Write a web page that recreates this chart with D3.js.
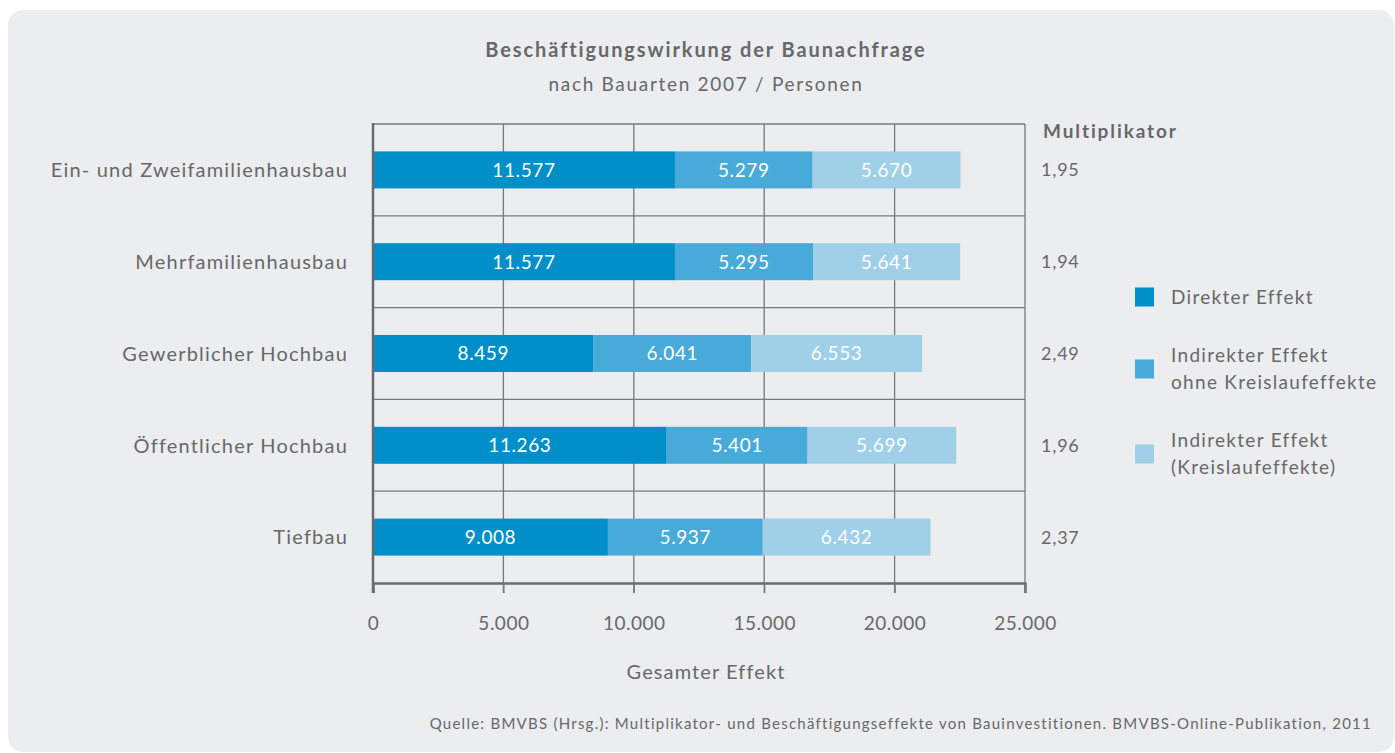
<!DOCTYPE html>
<html>
<head>
<meta charset="utf-8">
<script src="https://cdn.jsdelivr.net/npm/d3@7"></script>
<style>
  body { margin: 0; background: #fff; }
  svg { display: block; font-family: Lato, "Open Sans", sans-serif; }
  .grid line { stroke: #77787a; stroke-width: 1.3; }
  .txt { fill: #67686a; letter-spacing: 1.2px; }
</style>
</head>
<body>
<div id="chart"></div>
<script>
const categories = ["Ein- und Zweifamilienhausbau", "Mehrfamilienhausbau", "Gewerblicher Hochbau", "Öffentlicher Hochbau", "Tiefbau"];
const direkt = [11577, 11577, 8459, 11263, 9008];
const indirekt = [5279, 5295, 6041, 5401, 5937];
const kreislauf = [5670, 5641, 6553, 5699, 6432];
const multiplikator = ["1,95", "1,94", "2,49", "1,96", "2,37"];
const seriesNames = ["Direkter Effekt", "Indirekter Effekt|ohne Kreislaufeffekte", "Indirekter Effekt|(Kreislaufeffekte)"];
const xTicks = [0, 5000, 10000, 15000, 20000, 25000];
const colors = ["#008fc8", "#48aad8", "#a0cfe8"];

const width = 1395, height = 753;
const plot = { left: 373, right: 1025, top: 124, bottom: 583 };

const svg = d3.select("#chart").append("svg")
    .attr("width", width)
    .attr("height", height);

svg.append("rect")
    .attr("x", 8).attr("y", 10)
    .attr("width", 1386).attr("height", 742)
    .attr("rx", 15)
    .attr("fill", "#ecedef");

const x = d3.scaleLinear().domain([0, 25000]).range([plot.left, plot.right]);
const y = d3.scaleBand().domain(categories).range([plot.top, plot.bottom]).paddingInner(0).paddingOuter(0);

const fmt = d3.formatLocale({ decimal: ",", thousands: ".", grouping: [3] }).format(",");

const rows = categories.map((c, i) => ({ cat: c, vals: [direkt[i], indirekt[i], kreislauf[i]] }));
const stack = d3.stack().keys([0, 1, 2]).value((d, k) => d.vals[k])(rows);

// grid: vertical lines
const g = svg.append("g").attr("class", "grid");
g.selectAll(".v").data(xTicks.slice(1)).join("line")
    .attr("x1", d => x(d)).attr("x2", d => x(d))
    .attr("y1", plot.top).attr("y2", plot.bottom + 10);
// horizontal separators
g.selectAll(".h").data(categories).join("line")
    .attr("x1", plot.left).attr("x2", plot.right)
    .attr("y1", d => y(d)).attr("y2", d => y(d));

// bars
const barH = 37;
stack.forEach((s, k) => {
    svg.append("g").selectAll("rect").data(s).join("rect")
        .attr("x", d => x(d[0]))
        .attr("width", d => x(d[1]) - x(d[0]))
        .attr("y", d => y(d.data.cat) + y.bandwidth() / 2 - barH / 2)
        .attr("height", barH)
        .attr("fill", colors[k]);
    svg.append("g").selectAll("text").data(s).join("text")
        .attr("x", d => (x(d[0]) + x(d[1])) / 2)
        .attr("y", d => y(d.data.cat) + y.bandwidth() / 2)
        .attr("dy", "0.36em")
        .attr("text-anchor", "middle")
        .attr("fill", "#fff")
        .style("font-size", "19px")
        .style("letter-spacing", "0.6px")
        .text(d => fmt(d.data.vals[k]));
});

// axes
const xAxis = svg.append("g")
    .attr("transform", `translate(0,${plot.bottom})`)
    .call(d3.axisBottom(x).tickValues(xTicks).tickFormat(d => fmt(d)).tickSize(10).tickPadding(24));
xAxis.select(".domain").attr("stroke", "#6a6b6d").attr("stroke-width", 2.5);
xAxis.selectAll(".tick line").attr("stroke", "#77787a").attr("stroke-width", 1.3);
xAxis.selectAll(".tick text").attr("fill", "#67686a")
    .style("font-size", "19px").style("font-family", "Lato, sans-serif").style("letter-spacing", "0.5px");

svg.append("line")
    .attr("x1", plot.left).attr("x2", plot.left)
    .attr("y1", plot.top - 1).attr("y2", plot.bottom + 10)
    .attr("stroke", "#6a6b6d").attr("stroke-width", 2.5);

// category labels
svg.append("g").selectAll("text").data(categories).join("text")
    .attr("class", "txt")
    .attr("x", 348)
    .attr("y", d => y(d) + y.bandwidth() / 2)
    .attr("dy", "0.36em")
    .attr("text-anchor", "end")
    .style("font-size", "20px")
    .text(d => d);

// multiplikator
svg.append("text").attr("class", "txt")
    .attr("x", 1043).attr("y", 138)
    .style("font-size", "19px").style("font-weight", "bold").style("letter-spacing", "1.9px")
    .text("Multiplikator");
svg.append("g").selectAll("text").data(multiplikator).join("text")
    .attr("class", "txt")
    .attr("x", 1041)
    .attr("y", (d, i) => y(categories[i]) + y.bandwidth() / 2)
    .attr("dy", "0.36em")
    .style("font-size", "18px")
    .style("letter-spacing", "0.8px")
    .text(d => d);

// titles
svg.append("text").attr("class", "txt")
    .attr("x", 706).attr("y", 57)
    .attr("text-anchor", "middle")
    .style("font-size", "20px").style("font-weight", "bold").style("letter-spacing", "1.9px")
    .text("Beschäftigungswirkung der Baunachfrage");
svg.append("text").attr("class", "txt")
    .attr("x", 706).attr("y", 91)
    .attr("text-anchor", "middle")
    .style("font-size", "19px").style("letter-spacing", "1.7px")
    .text("nach Bauarten 2007 / Personen");

svg.append("text").attr("class", "txt")
    .attr("x", 706).attr("y", 679)
    .attr("text-anchor", "middle")
    .style("font-size", "20px").style("letter-spacing", "1.1px")
    .text("Gesamter Effekt");

svg.append("text").attr("class", "txt")
    .attr("x", 1372).attr("y", 729)
    .attr("text-anchor", "end")
    .style("font-size", "15px").style("letter-spacing", "1.25px")
    .text("Quelle: BMVBS (Hrsg.): Multiplikator- und Beschäftigungseffekte von Bauinvestitionen. BMVBS-Online-Publikation, 2011");

// legend
const legendY = [297, 369, 454];
const lg = svg.append("g").selectAll("g").data(seriesNames).join("g")
    .attr("transform", (d, i) => `translate(1135,${legendY[i]})`);
lg.append("rect")
    .attr("x", 0).attr("y", -9.5)
    .attr("width", 19).attr("height", 19)
    .attr("fill", (d, i) => colors[i]);
lg.each(function(d) {
    const lines = d.split("|");
    const t = d3.select(this).append("text").attr("class", "txt")
        .style("font-size", "19px").style("letter-spacing", "1.3px");
    lines.forEach((ln, j) => {
        t.append("tspan")
            .attr("x", 36)
            .attr("y", (j - (lines.length - 1) / 2) * 27)
            .attr("dy", "0.36em")
            .text(ln);
    });
});
</script>
</body>
</html>
